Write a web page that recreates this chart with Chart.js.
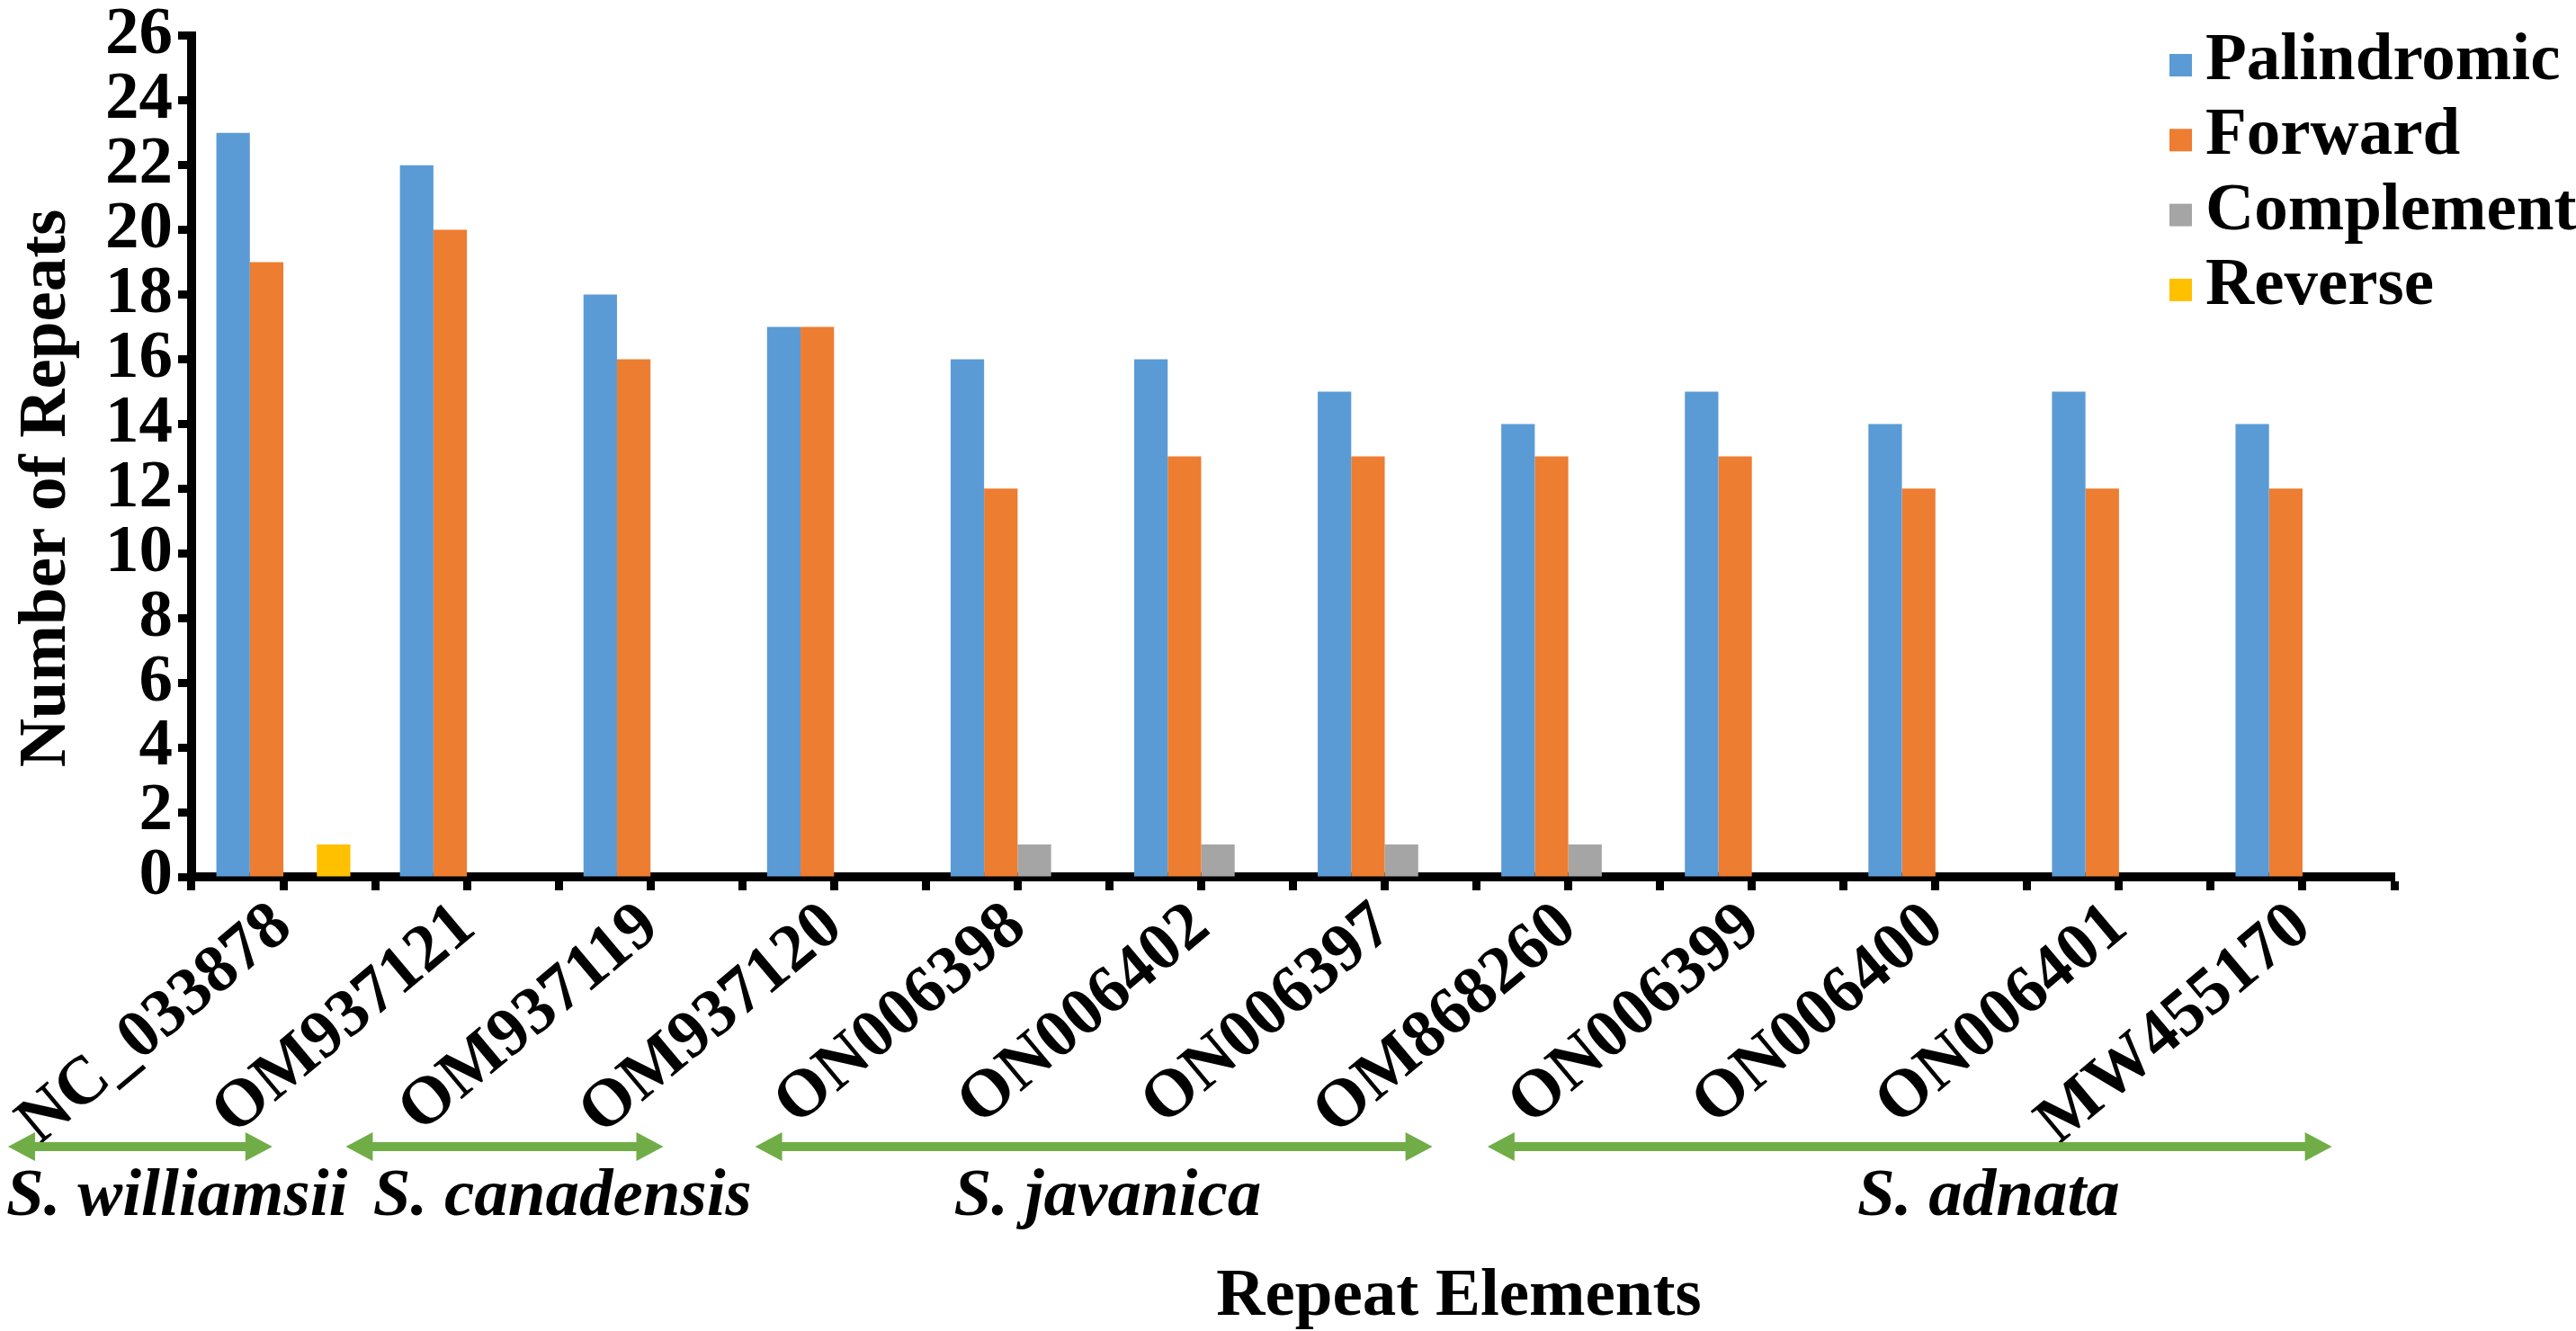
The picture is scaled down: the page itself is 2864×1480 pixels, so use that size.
<!DOCTYPE html>
<html>
<head>
<meta charset="utf-8">
<script src="https://cdn.jsdelivr.net/npm/chart.js@4.4.0/dist/chart.umd.min.js"></script>
<style>
  html, body { margin: 0; padding: 0; background: #fff; }
  #wrap { width: 2864px; height: 1480px; }
</style>
</head>
<body>
<div id="wrap"><canvas id="chart" width="2864" height="1480"></canvas></div>
<script>
// chart values
const accessions = ['NC_033878', 'OM937121', 'OM937119', 'OM937120', 'ON006398', 'ON006402',
                    'ON006397', 'OM868260', 'ON006399', 'ON006400', 'ON006401', 'MW455170'];
const palindromic = [23, 22, 18, 17, 16, 16, 15, 14, 15, 14, 15, 14];
const forward     = [19, 20, 16, 17, 12, 13, 13, 13, 13, 12, 12, 12];
const complement  = [0, 0, 0, 0, 1, 1, 1, 1, 0, 0, 0, 0];
const reverse     = [1, 0, 0, 0, 0, 0, 0, 0, 0, 0, 0, 0];
const seriesNames = ['Palindromic', 'Forward', 'Complement', 'Reverse'];
const species = ['S. williamsii', 'S. canadensis', 'S. javanica', 'S. adnata'];

// where the species arrows / names sit, in category units
const speciesSpan = [[-1.5, -0.06], [0.34, 2.07], [2.57, 6.26], [6.56, 11.16]];
const speciesTextAt = [-0.58, 1.52, 4.49, 9.29];

const colors = ['#5B9BD5', '#ED7D31', '#A5A5A5', '#FFC000'];
const green = '#70AD47';
const FONT = '"Liberation Serif", "Times New Roman", serif';

function drawArrow(ctx, x1, x2, y) {
    const hl = 30, hw = 16, lw = 10;
    ctx.fillStyle = green;
    ctx.fillRect(x1 + hl - 1, y - lw / 2, (x2 - x1) - 2 * hl + 2, lw);
    ctx.beginPath();
    ctx.moveTo(x1, y);
    ctx.lineTo(x1 + hl, y - hw);
    ctx.lineTo(x1 + hl, y + hw);
    ctx.closePath();
    ctx.fill();
    ctx.beginPath();
    ctx.moveTo(x2, y);
    ctx.lineTo(x2 - hl, y - hw);
    ctx.lineTo(x2 - hl, y + hw);
    ctx.closePath();
    ctx.fill();
}

const extras = {
    id: 'extras',
    afterDraw(chart) {
        const ctx = chart.ctx;
        const xs = chart.scales.x;
        const area = chart.chartArea;
        ctx.save();

        // small ticks at the category centres
        ctx.fillStyle = '#000';
        accessions.forEach((_, i) => {
            const px = xs.getPixelForValue(i);
            ctx.fillRect(Math.round(px - 4.5), area.bottom + 4, 9, 11);
        });

        // species arrows and names
        const unit = xs.getPixelForValue(1) - xs.getPixelForValue(0);
        const at = v => xs.getPixelForValue(0) + v * unit;
        speciesSpan.forEach(s => drawArrow(ctx, at(s[0]), at(s[1]), area.bottom + 300));
        ctx.fillStyle = '#000';
        ctx.font = 'italic bold 75px ' + FONT;
        ctx.textAlign = 'center';
        ctx.textBaseline = 'alphabetic';
        species.forEach((name, i) => ctx.fillText(name, at(speciesTextAt[i]), area.bottom + 376));

        // axis titles
        ctx.font = 'bold 75px ' + FONT;
        ctx.fillText('Repeat Elements', 1622, 1462);
        ctx.save();
        ctx.translate(72, 543);
        ctx.rotate(-Math.PI / 2);
        ctx.fillText('Number of Repeats', 0, 0);
        ctx.restore();

        // legend
        ctx.textAlign = 'left';
        chart.data.datasets.forEach((ds, i) => {
            const y = 60 + i * 83.3;
            ctx.fillStyle = ds.backgroundColor;
            ctx.fillRect(2412, y, 25, 25);
            ctx.fillStyle = '#000';
            ctx.fillText(ds.label, 2452, y + 28);
        });
        ctx.restore();
    }
};

new Chart(document.getElementById('chart'), {
    type: 'bar',
    data: {
        labels: accessions,
        datasets: [palindromic, forward, complement, reverse].map((d, i) => ({
            label: seriesNames[i],
            data: d,
            backgroundColor: colors[i],
            borderWidth: 0,
            categoryPercentage: 0.73,
            barPercentage: 1.0
        }))
    },
    options: {
        responsive: false,
        animation: false,
        devicePixelRatio: 1,
        layout: { padding: { top: 37, right: 202, left: 0, bottom: 0 } },
        plugins: {
            legend: { display: false },
            tooltip: { enabled: false }
        },
        scales: {
            x: {
                z: 1,
                grid: { drawOnChartArea: false, offset: true, tickLength: 15, tickWidth: 9, tickColor: '#000' },
                border: { display: true, width: 10, color: '#000' },
                ticks: {
                    autoSkip: false,
                    minRotation: 40,
                    maxRotation: 40,
                    padding: 2,
                    color: '#000',
                    font: { family: FONT, size: 75, weight: 'bold', lineHeight: 1.0 }
                },
                afterFit: s => { s.height = 1480 - 975; }
            },
            y: {
                z: 1,
                min: 0,
                max: 26,
                ticks: {
                    stepSize: 2,
                    padding: 6,
                    color: '#000',
                    font: { family: FONT, size: 75, weight: 'bold', lineHeight: 0.9 }
                },
                grid: { drawOnChartArea: false, tickLength: 15, tickWidth: 9, tickColor: '#000' },
                border: { display: true, width: 10, color: '#000' },
                afterFit: s => { s.width = 213; }
            }
        }
    },
    plugins: [extras]
});
</script>
</body>
</html>
